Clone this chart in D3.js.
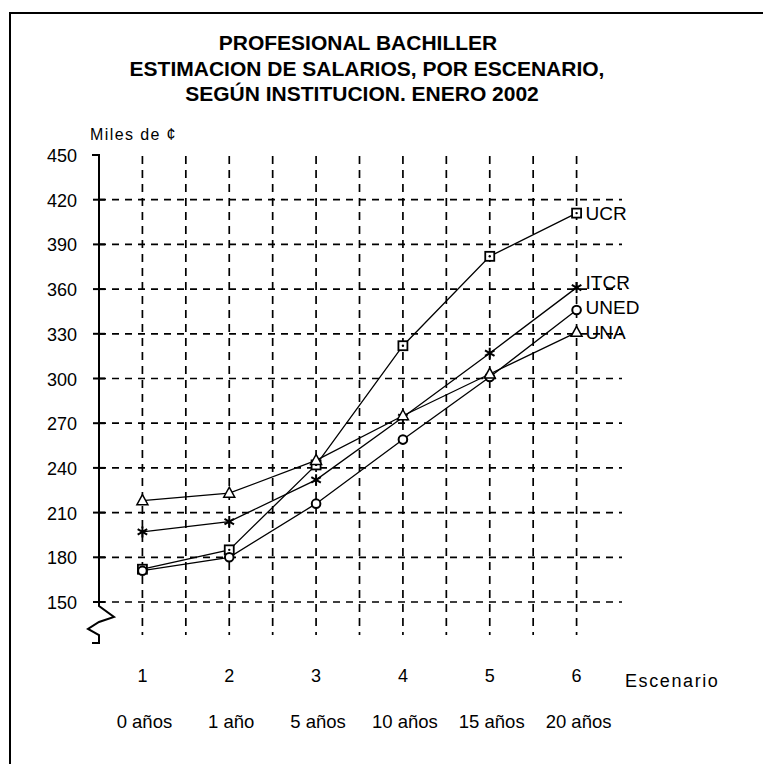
<!DOCTYPE html>
<html>
<head>
<meta charset="utf-8">
<script src="https://cdn.jsdelivr.net/npm/d3@7"></script>
<style>
  html, body { margin: 0; padding: 0; background: #fff; }
  svg { display: block; }
</style>
</head>
<body>
<svg id="chart" width="763" height="764"></svg>
<script>
// ---- data ----
const titleLines = ["PROFESIONAL BACHILLER", "ESTIMACION DE SALARIOS, POR ESCENARIO,", "SEGÚN INSTITUCION. ENERO 2002"];
const yAxisTitle = "Miles de ¢";
const xAxisTitle = "Escenario";
const scenarios = [1, 2, 3, 4, 5, 6];
const yearLabels = ["0 años", "1 año", "5 años", "10 años", "15 años", "20 años"];
const yTicks = [150, 180, 210, 240, 270, 300, 330, 360, 390, 420, 450];
const seriesNames = ["UCR", "ITCR", "UNED", "UNA"];
const ucr  = [172, 185, 242, 322, 382, 411];
const itcr = [197, 204, 232, 274, 317, 361];
const uned = [171, 180, 216, 259, 301, 346];
const una  = [218, 223, 245, 275, 303, 331];
const seriesMarkers = ["square", "star", "circle", "triangle"];

// ---- drawing ----
const svg = d3.select("#chart");
const x = d3.scaleLinear().domain([0.5, 6.5]).range([99, 620]);
const y = d3.scaleLinear().domain([150, 450]).range([602, 155]);
const gridBottom = 635;
const axisBottom = 643;
const ink = "#000";
const labelFont = "'Liberation Sans', Arial, sans-serif";

// frame (left and top edges)
svg.append("path").attr("d", "M10,764 L10,13 L763,13")
  .attr("fill", "none").attr("stroke", ink).attr("stroke-width", 2);

// title
const titleY = [50, 76, 101];
const titleX = [358, 367, 362];
svg.append("g").selectAll("text").data(titleLines).join("text")
  .attr("x", (d, i) => titleX[i]).attr("y", (d, i) => titleY[i])
  .attr("text-anchor", "middle")
  .attr("font-family", labelFont).attr("font-weight", "bold")
  .attr("font-size", 21).attr("fill", ink)
  .text(d => d);

// y axis title
svg.append("text").attr("x", 90).attr("y", 140)
  .attr("font-family", labelFont).attr("font-size", 16)
  .attr("letter-spacing", 1.4).attr("fill", ink).text(yAxisTitle);

// grid: horizontal
const hGrid = yTicks.filter(v => v < 450);
svg.append("g").selectAll("line").data(hGrid).join("line")
  .attr("x1", x(0.5)).attr("x2", x(6.5) + 2)
  .attr("y1", d => y(d)).attr("y2", d => y(d))
  .attr("stroke", ink).attr("stroke-width", 1.7)
  .attr("stroke-dasharray", "7,6");

// grid: vertical at each scenario and half-way
const vGrid = d3.range(1, 6.01, 0.5);
svg.append("g").selectAll("line").data(vGrid).join("line")
  .attr("x1", d => x(d)).attr("x2", d => x(d))
  .attr("y1", y(450) + 1).attr("y2", gridBottom)
  .attr("stroke", ink).attr("stroke-width", 1.7)
  .attr("stroke-dasharray", "8,6");

// y axis line with break
const ax = x(0.5);
svg.append("path")
  .attr("d", `M${ax - 7},${y(450)} L${ax},${y(450)} L${ax},${y(150) + 4} L${ax + 15},${y(150) + 15} L${ax},${y(150) + 20} L${ax - 11},${y(150) + 27} L${ax},${y(150) + 33} L${ax},${axisBottom} L${ax - 7},${axisBottom}`)
  .attr("fill", "none").attr("stroke", ink).attr("stroke-width", 2);
// y ticks
svg.append("g").selectAll("line").data(yTicks.filter(v => v < 450)).join("line")
  .attr("x1", ax - 6).attr("x2", ax + 6)
  .attr("y1", d => y(d)).attr("y2", d => y(d))
  .attr("stroke", ink).attr("stroke-width", 2);
// y tick labels
svg.append("g").selectAll("text").data(yTicks).join("text")
  .attr("x", 77).attr("y", d => y(d) + 7)
  .attr("text-anchor", "end")
  .attr("font-family", labelFont).attr("font-size", 18).attr("fill", ink)
  .text(d => d);

// x labels
svg.append("g").selectAll("text").data(scenarios).join("text")
  .attr("x", d => x(d)).attr("y", 682)
  .attr("text-anchor", "middle")
  .attr("font-family", labelFont).attr("font-size", 18).attr("fill", ink)
  .text(d => d);
svg.append("text").attr("x", 625).attr("y", 687)
  .attr("font-family", labelFont).attr("font-size", 18)
  .attr("letter-spacing", 1.6).attr("fill", ink).text(xAxisTitle);
svg.append("g").selectAll("text").data(yearLabels).join("text")
  .attr("x", (d, i) => x(scenarios[i]) + 2).attr("y", 728)
  .attr("text-anchor", "middle")
  .attr("font-family", labelFont).attr("font-size", 18.5).attr("fill", ink)
  .text(d => d);

// series
const seriesValues = [ucr, itcr, uned, una];
const line = d3.line().x((d, i) => x(scenarios[i])).y(d => y(d));
const gS = svg.append("g");
seriesValues.forEach((vals, si) => {
  gS.append("path").attr("d", line(vals))
    .attr("fill", "none").attr("stroke", ink).attr("stroke-width", 1.3);
});
function drawMarker(g, type, cx, cy) {
  if (type === "square") {
    g.append("rect").attr("x", cx - 4.5).attr("y", cy - 4.5).attr("width", 9).attr("height", 9)
      .attr("fill", "#fff").attr("stroke", ink).attr("stroke-width", 1.8);
    g.append("circle").attr("cx", cx).attr("cy", cy).attr("r", 1.2).attr("fill", ink);
  } else if (type === "circle") {
    g.append("circle").attr("cx", cx).attr("cy", cy).attr("r", 4.3)
      .attr("fill", "#fff").attr("stroke", ink).attr("stroke-width", 2);
  } else if (type === "triangle") {
    g.append("path").attr("d", `M${cx},${cy - 6} L${cx + 5.5},${cy + 4} L${cx - 5.5},${cy + 4} Z`)
      .attr("fill", "#fff").attr("stroke", ink).attr("stroke-width", 1.5);
  } else if (type === "star") {
    const r = 5.5;
    const d = [0, 60, 120].map(a => {
      const t = a * Math.PI / 180 + Math.PI / 2;
      return `M${cx + r * Math.cos(t)},${cy + r * Math.sin(t)} L${cx - r * Math.cos(t)},${cy - r * Math.sin(t)}`;
    }).join(" ");
    g.append("path").attr("d", d).attr("stroke", ink).attr("stroke-width", 2);
  }
}
seriesValues.forEach((vals, si) => {
  vals.forEach((v, i) => drawMarker(gS, seriesMarkers[si], x(scenarios[i]), y(v)));
});

// end labels with simple collision avoidance (bottom up)
const ends = seriesNames.map((n, si) => ({ name: n, ty: y(seriesValues[si][5]) }))
  .sort((a, b) => b.ty - a.ty);
for (let i = 1; i < ends.length; i++) {
  ends[i].ty = Math.min(ends[i].ty, ends[i - 1].ty - 25);
}
svg.append("g").selectAll("text").data(ends).join("text")
  .attr("x", x(6) + 9).attr("y", d => d.ty + 7)
  .attr("font-family", labelFont).attr("font-size", 19).attr("fill", ink)
  .text(d => d.name);
</script>
</body>
</html>
